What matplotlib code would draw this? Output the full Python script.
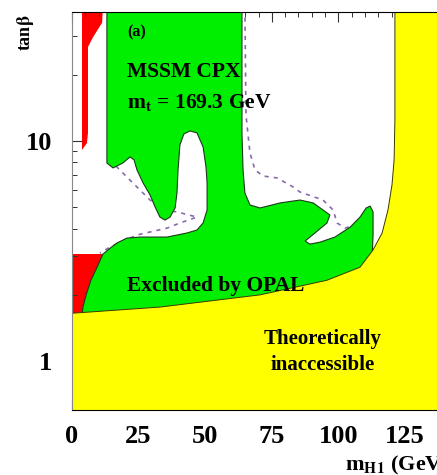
import matplotlib
matplotlib.use("Agg")
import matplotlib.pyplot as plt
from matplotlib.ticker import FixedLocator, MultipleLocator, LogLocator, NullFormatter

plt.rcParams['font.family'] = ['Liberation Serif', 'DejaVu Serif']
plt.rcParams['font.weight'] = 'bold'
plt.rcParams['mathtext.fontset'] = 'stix'

# ---- data (m_H1 in GeV, tan beta) ----
# theoretically inaccessible region boundary (upper edge of yellow area)
yel_m = [0, 33.0, 70.6, 95.7, 108.1, 113.0, 116.4, 118.6, 120.1, 120.9, 121.2, 121.2]
yel_tb = [1.65, 1.76, 2.0, 2.33, 2.67, 3.20, 3.82, 4.86, 6.31, 8.2, 12.5, 40]

# region excluded by OPAL (green)
grn_m = [13.1, 13.1, 15.4, 19.1, 21.8, 23.3, 24.4, 26.7, 29.3, 31.2, 33.0, 34.9,
         36.8, 38.7, 39.4, 39.8, 40.5, 42.0, 44.3, 46.9, 49.2, 50.3, 50.7, 50.7,
         49.2, 46.9, 43.2, 35.7, 25.5, 20.6, 16.9, 14.3, 11.6, 9.4, 7.1, 5.3,
         4.1, 3.75, 3.75, 111.9, 112.6, 113.0, 113.0, 111.9, 110.4, 108.1, 104.4,
         98.7, 93.1, 89.3, 87.5, 91.2, 95.7, 96.8, 94.2, 90.5, 85.6, 78.1, 70.6,
         66.8, 64.9, 64.2, 63.8, 63.8]
grn_tb = [40, 7.94, 7.54, 7.94, 8.46, 8.2, 7.38, 6.44, 5.68, 5.01, 4.51, 4.37,
          4.51, 4.96, 5.8, 7.38, 9.59, 10.76, 11.1, 10.88, 9.39, 7.62, 6.44, 4.86,
          4.24, 3.94, 3.82, 3.66, 3.66, 3.62, 3.44, 3.26, 3.06, 2.67, 2.33, 2.0,
          1.76, 1.60, 1.25, 1.25, 2.88, 3.74, 4.76, 5.06, 4.96, 4.51, 4.06,
          3.66, 3.47, 3.40, 3.51, 3.82, 4.24, 4.61, 4.86, 5.23, 5.39, 5.23, 4.96,
          5.12, 5.8, 7.38, 10.88, 40]

# red regions
red1_m = [3.75, 11.6, 11.3, 7.9, 6.0, 6.0, 5.6, 3.75]
red1_tb = [40, 40, 34.4, 29.6, 26.7, 10.88, 9.78, 9.1]
red2_m = [0, 12, 12, 0]
red2_tb = [1.4, 1.4, 3.05, 3.05]

# dashed contours
dsh1_m = [16.5, 19.1, 29.3, 34.9, 39.4, 46.9, 40.5, 35.7, 29.3, 24.4, 14.3, 10.5]
dsh1_tb = [7.69, 7.15, 5.39, 4.86, 4.76, 4.51, 4.24, 4.02, 3.86, 3.74, 3.30, 3.09]
dsh2_m = [64.9, 65.3, 66.8, 68.7, 71.7, 77.0, 83.0, 85.6, 94.2, 98.0, 99.5, 102.5, 106.2, 109.2]
dsh2_tb = [40, 13.1, 8.82, 7.38, 6.93, 6.79, 6.18, 5.86, 5.39, 4.86, 4.24, 4.02, 4.15, 4.47]

x_ticks = [0, 25, 50, 75, 100, 125]
y_ticks = [1, 10]

fig = plt.figure(figsize=(4.37, 4.75), dpi=100)
ax = fig.add_axes([72/437, 65/475, 373/437, 398/475])
ax.set_yscale('log')
ax.set_xlim(0, 140)
ax.set_ylim(0.6, 38.5)

ax.plot(dsh1_m, dsh1_tb, color='#8a6aa8', lw=1.2, ls=(0, (2.5, 3)), zorder=1)
ax.plot(dsh2_m, dsh2_tb, color='#8a6aa8', lw=1.2, ls=(0, (2.5, 3)), zorder=1)
ax.fill(red1_m, red1_tb, color='#ff0000', lw=0, zorder=1.5)
ax.fill(red2_m, red2_tb, color='#ff0000', lw=0, zorder=1.5)
ax.fill(grn_m, grn_tb, facecolor='#00ee00', edgecolor='#1a3a1a', lw=0.8, zorder=2)
ax.fill(yel_m + [140, 140, 0], yel_tb + [40, 0.5, 0.5],
        facecolor='#ffff00', edgecolor='#3a3a00', lw=0.7, zorder=3)

ax.xaxis.set_major_locator(FixedLocator(x_ticks))
ax.xaxis.set_minor_locator(MultipleLocator(5))
ax.yaxis.set_major_locator(FixedLocator(y_ticks))
ax.yaxis.set_minor_locator(LogLocator(base=10, subs=range(2, 10)))
ax.yaxis.set_minor_formatter(NullFormatter())
ax.set_yticklabels(['1', '10'])
ax.set_xticklabels([str(v) for v in x_ticks])
ax.tick_params(which='both', direction='in', top=True, right=True, colors='#333333',
               labelcolor='black')
ax.tick_params(which='major', length=7, width=0.8)
ax.tick_params(which='minor', length=3.5, width=0.7)
ax.tick_params(axis='y', pad=14, labelsize=19)
ax.tick_params(axis='x', pad=11, labelsize=19)
for lab in ax.get_xticklabels() + ax.get_yticklabels():
    lab.set_fontweight('bold')
for sp in ax.spines.values():
    sp.set_zorder(4)
    sp.set_linewidth(0.8)
ax.spines['left'].set_color('#888888')

tk = dict(fontweight='bold', color='black', zorder=5)
ax.text(20.6, 31.0, '(a)', fontsize=11.5, va='center', ha='left', **tk)
ax.text(20.6, 20.5, 'MSSM CPX', fontsize=15.5, va='center', ha='left', **tk)
ax.text(20.6, 15.0, r'm$_{\mathbf{t}}$ = 169.3 GeV', fontsize=15.5, va='center', ha='left', **tk)
ax.text(20.6, 2.2, 'Excluded by OPAL', fontsize=15.5, va='center', ha='left', **tk)
ax.text(94, 1.26, 'Theoretically', fontsize=15, va='center', ha='center', **tk)
ax.text(94, 0.96, 'inaccessible', fontsize=15, va='center', ha='center', **tk)

fig.text(25/437, 1 - 33/475, r'tan$\mathbf{\beta}$', rotation=90, fontsize=13,
         fontweight='bold', ha='center', va='center')
fig.text(345/437, 5/475, r'm$_{\mathbf{H1}}$ (GeV)', fontsize=16,
         fontweight='bold', ha='left', va='baseline')

fig.savefig('out.png', dpi=100)
